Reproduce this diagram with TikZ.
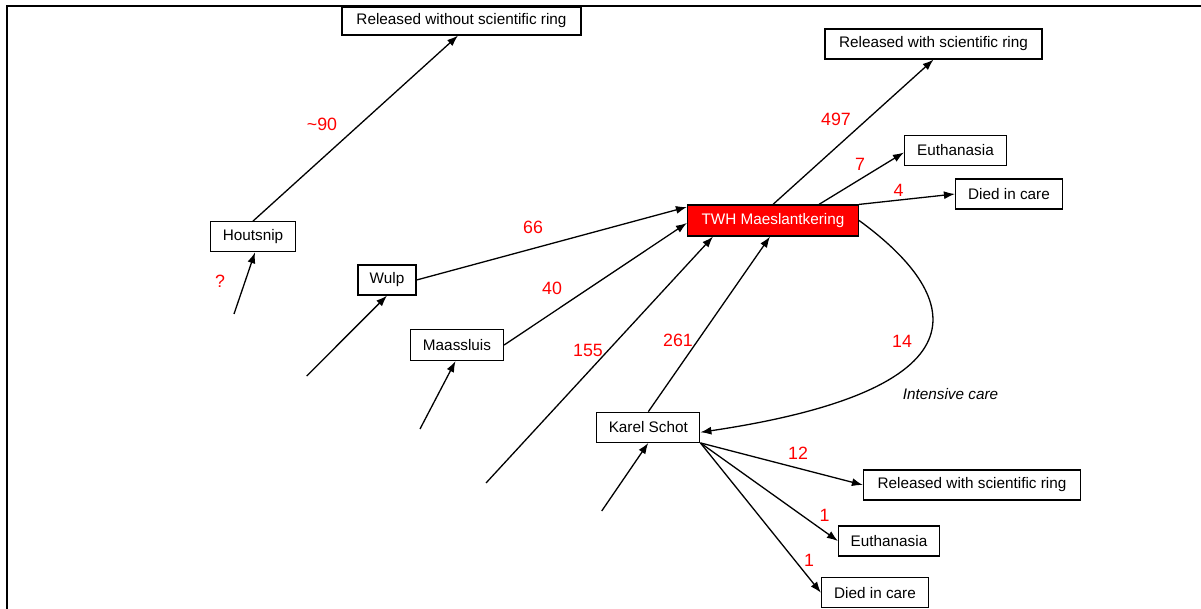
\documentclass[tikz,border=0pt]{standalone}
\usepackage{fontspec}
\setmainfont{Liberation Sans}
\usetikzlibrary{arrows.meta}
\definecolor{pured}{RGB}{255,0,0}
\tikzset{
  box/.style={draw=black, line width=1.2pt, fill=white, minimum height=30pt, inner sep=0pt,
    font=\fontsize{15.3}{18}\selectfont},
  redbox/.style={box, fill=pured, text=white},
  num/.style={text=pured, inner sep=0pt, font=\fontsize{17.8}{20}\selectfont},
  conn/.style={line width=1.3pt, -{Latex[length=11pt,width=8pt]}},
  plainconn/.style={line width=1.3pt},
}
\begin{document}
\begin{tikzpicture}[x=1pt,y=-1pt]
\useasboundingbox (0,0) rectangle (1201,609);
\draw[line width=2.5pt] (7,609) -- (7,6) -- (1201,6);

% nodes
\node[box, minimum width=239pt, minimum height=28pt] (rwo) at (461.5,21) {Released without scientific ring};
\node[box, minimum width=217pt] (rwt) at (933.5,44) {Released with scientific ring};
\node[box, minimum width=102pt] (eut) at (955.5,150.5) {Euthanasia};
\node[box, minimum width=107pt] (dit) at (1009,194) {Died in care};
\node[redbox, minimum width=171pt, minimum height=31pt] (twh) at (773,220.5) {TWH Maeslantkering};
\node[box, minimum width=85pt] (hout) at (253,236.7) {Houtsnip};
\node[box, minimum width=58pt] (wulp) at (387,280) {Wulp};
\node[box, minimum width=93pt, minimum height=31pt] (maas) at (457,345) {Maassluis};
\node[box, minimum width=103pt] (karel) at (648.3,427.3) {Karel Schot};
\node[box, minimum width=217pt] (rwb) at (972,485) {Released with scientific ring};
\node[box, minimum width=101pt] (eub) at (889,541) {Euthanasia};
\node[box, minimum width=107pt] (dib) at (875,592.7) {Died in care};

% free ends
\coordinate (inh) at (234,314);
\coordinate (inw) at (306.7,376);
\coordinate (inm) at (420,429);
\coordinate (in155) at (486,483);
\coordinate (ink) at (601.7,511);

% connectors
\draw[conn] (hout.north) -- ([xshift=-3.5pt]rwo.south);
\draw[conn] (inh) -- ([xshift=2pt]hout.south);
\draw[conn] (inw) -- (wulp.south);
\draw[conn] (inm) -- ([xshift=-1.5pt]maas.south);
\draw[conn] (ink) -- (karel.south);
\draw[conn] (wulp.east) -- ([yshift=13.5pt]twh.west);
\draw[conn] (maas.east) -- ([yshift=-2.5pt]twh.west);
\draw[conn] (in155) -- ([xshift=-60pt]twh.south);
\draw[conn] (karel.north) -- ([xshift=-3pt]twh.south);
\draw[conn] (twh.north) -- (rwt.south);
\draw[conn] ([xshift=46pt]twh.north) -- ([yshift=-2pt]eut.west);
\draw[conn] (twh.north east) -- (dit.west);
\draw[conn] (twh.east) .. controls (968,300) and (985,390) .. ([yshift=-5pt]karel.east);
\draw[conn] (karel.south east) -- (rwb.west);
\draw[conn] (karel.south east) -- (eub.west);
\draw[conn] (karel.south east) -- (dib.west);

% labels
\node[num] (l90) at (322,124) {\char`\~90};
\node[num] (lq) at (220,281) {?};
\node[num] (l66) at (533,227) {66};
\node[num] (l40) at (552,288) {40};
\node[num] (l155) at (588,350) {155};
\node[num] (l261) at (678,340) {261};
\node[num] (l497) at (836,119) {497};
\node[num] (l7) at (860,164) {7};
\node[num] (l4) at (898.5,190) {4};
\node[num] (l14) at (902,341.5) {14};
\node[inner sep=0pt, font=\fontsize{15.3}{18}\selectfont\itshape] (lic) at (950.5,394) {Intensive care};
\node[num] (l12) at (798,453.7) {12};
\node[num] (l1a) at (824.5,515) {1};
\node[num] (l1b) at (809,560) {1};
\end{tikzpicture}
\end{document}
